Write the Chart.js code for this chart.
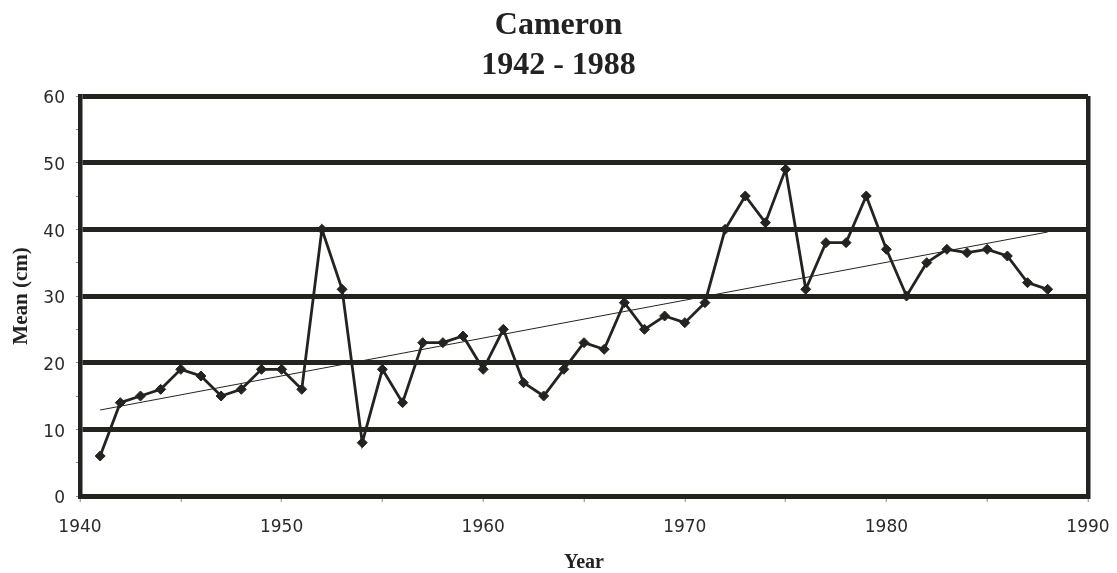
<!DOCTYPE html>
<html>
<head>
<meta charset="utf-8">
<script src="https://cdn.jsdelivr.net/npm/chart.js@4/dist/chart.umd.min.js"></script>
<style>
  html, body { margin: 0; padding: 0; background: #ffffff; }
  #wrap { width: 1117px; height: 573px; position: relative; }
</style>
</head>
<body>
<div id="wrap"><canvas id="c" width="1117" height="573"></canvas></div>
<script>
// ---- data ----
const years = [1941,1942,1943,1944,1945,1946,1947,1948,1949,1950,
               1951,1952,1953,1954,1955,1956,1957,1958,1959,1960,
               1961,1962,1963,1964,1965,1966,1967,1968,1969,1970,
               1971,1972,1973,1974,1975,1976,1977,1978,1979,1980,
               1981,1982,1983,1984,1985,1986,1987,1988];
const meanCm = [6,14,15,16,19,18,15,16,19,19,
                16,40,31,8,19,14,23,23,24,19,
                25,17,15,19,23,22,29,25,27,26,
                29,40,45,41,49,31,38,38,45,37,
                30,35,37,36.5,37,36,32,31];
const trendYears = [1941, 1988];
const trendValues = [12.9, 39.6];
const titleLines = ['Cameron', '1942 - 1988'];
const xAxisTitle = 'Year';
const yAxisTitle = 'Mean (cm)';
const xMin = 1940, xMax = 1990, yMin = 0, yMax = 60;

const DARK = '#232420';
const TICKGRAY = '#8a8a8a';

const seriesPoints = years.map((y, i) => ({ x: y, y: meanCm[i] }));
const trendPoints = trendYears.map((y, i) => ({ x: y, y: trendValues[i] }));

new Chart(document.getElementById('c'), {
  type: 'line',
  data: {
    datasets: [
      {
        label: 'Mean',
        data: seriesPoints,
        borderColor: DARK,
        backgroundColor: DARK,
        borderWidth: 2.8,
        pointStyle: 'rectRot',
        pointRadius: 5,
        pointBorderWidth: 1,
        pointBackgroundColor: DARK,
        pointBorderColor: DARK,
        tension: 0,
        order: 1
      },
      {
        label: 'Trend',
        data: trendPoints,
        borderColor: DARK,
        borderWidth: 1,
        pointRadius: 0,
        tension: 0,
        order: 2
      }
    ]
  },
  options: {
    responsive: false,
    animation: false,
    devicePixelRatio: 1,
    layout: { padding: 0 },
    plugins: {
      legend: { display: false },
      tooltip: { enabled: false },
      title: {
        display: true,
        text: titleLines,
        color: '#222222',
        font: { family: "'Liberation Serif', 'Times New Roman', serif", size: 32, weight: 'bold', lineHeight: 1.25 },
        padding: { top: 6, bottom: 10 }
      }
    },
    scales: {
      x: {
        type: 'linear',
        min: xMin,
        max: xMax,
        afterFit: (s) => { s.height = 77; s.paddingLeft = 0; s.paddingRight = 0; },
        ticks: {
          stepSize: 5,
          autoSkip: false,
          maxRotation: 0,
          padding: 15,
          color: '#2a2a2a',
          font: { family: "'DejaVu Sans', sans-serif", size: 17 },
          callback: (v) => (v % 10 === 0 ? String(v) : '')
        },
        grid: {
          drawOnChartArea: true,
          color: (ctx) => (ctx.tick && ctx.tick.value === xMax ? DARK : 'rgba(0,0,0,0)'),
          lineWidth: 4.5,
          tickColor: TICKGRAY,
          tickWidth: 1,
          tickLength: 6
        },
        border: { display: true, color: DARK, width: 5 },
        title: {
          display: true,
          text: xAxisTitle,
          color: '#222222',
          font: { family: "'Liberation Serif', 'Times New Roman', serif", size: 20, weight: 'bold', lineHeight: 1 },
          padding: { top: 0, bottom: 0 }
        }
      },
      y: {
        type: 'linear',
        position: 'left',
        min: yMin,
        max: yMax,
        afterFit: (s) => { s.width = 80; },
        ticks: {
          stepSize: 5,
          autoSkip: false,
          padding: 11,
          labelOffset: 3,
          color: '#2a2a2a',
          font: { family: "'DejaVu Sans', sans-serif", size: 17 },
          callback: (v) => (v % 10 === 0 ? String(v) : '')
        },
        grid: {
          color: (ctx) => (ctx.tick && ctx.tick.value % 10 === 0 ? DARK : 'rgba(0,0,0,0)'),
          lineWidth: 5,
          tickColor: TICKGRAY,
          tickWidth: 1,
          tickLength: 4
        },
        border: { display: true, color: DARK, width: 4.5 },
        title: {
          display: true,
          text: yAxisTitle,
          color: '#222222',
          font: { family: "'Liberation Serif', 'Times New Roman', serif", size: 21, weight: 'bold', lineHeight: 1 },
          padding: { top: 11, bottom: 0 }
        }
      },
      yRight: {
        type: 'linear',
        position: 'right',
        min: yMin,
        max: yMax,
        afterFit: (s) => { s.width = 29; },
        ticks: { display: false },
        grid: { display: false, drawOnChartArea: false, drawTicks: false },
        border: { display: false }
      }
    }
  }
});
</script>
</body>
</html>
